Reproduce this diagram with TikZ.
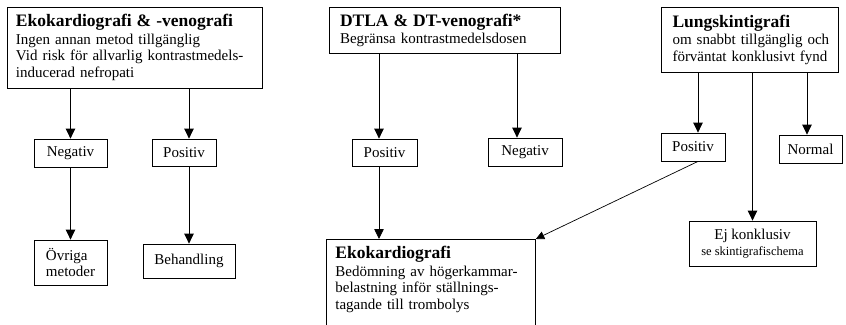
\documentclass[tikz,border=0pt]{standalone}
\usepackage{fontspec}
\setmainfont{Liberation Serif}
\usetikzlibrary{arrows.meta}

\newcommand\boxtitle[1]{{\fontsize{17.5}{19}\selectfont\bfseries #1}}
\newcommand\smallnote[1]{{\fontsize{12.5}{14}\selectfont #1}}

\begin{document}
\begin{tikzpicture}[x=1pt,y=-1pt,
  every node/.style={font=\fontsize{15}{16.5}\selectfont},
  box/.style={draw=black, line width=0.8pt, fill=white, inner sep=0pt},
  bigbox/.style={box, align=left},
  smallbox/.style={box, align=center},
  arr/.style={draw=black, line width=0.8pt, -{Triangle[length=10pt,width=9.5pt]}},
  arrthin/.style={draw=black, line width=0.7pt, -{Triangle[length=8.5pt,width=8pt]}}
]
\useasboundingbox (0,0) rectangle (846,324);
\clip (0,0) rectangle (846,324);

% --- top row: the three examinations ---
\node[bigbox, minimum width=255pt, minimum height=81pt, inner xsep=9pt, text width=237pt] (eko) at (134.5,47.5)
  {\boxtitle{Ekokardiografi \& -venografi}\\[1pt]
   \mbox{Ingen annan metod tillgänglig}\\
   \mbox{Vid risk för allvarlig kontrastmedels-}\\
   \mbox{inducerad nefropati}};

\node[bigbox, minimum width=231pt, minimum height=46pt, inner xsep=11pt, text width=209pt] (dtla) at (444.5,30)
  {\boxtitle{DTLA \& DT-venografi*}\\[0.5pt]
   \mbox{Begränsa kontrastmedelsdosen}};

\node[bigbox, minimum width=177pt, minimum height=65pt, inner xsep=11.5pt, text width=154pt] (lung) at (749.5,39.5)
  {\boxtitle{Lungskintigrafi}\\[1pt]
   \mbox{om snabbt tillgänglig och}\\
   \mbox{förväntat konklusivt fynd}};

% --- results ---
\node[smallbox, minimum width=73pt, minimum height=28pt] (negA) at (70.5,153) {Negativ};
\node[smallbox, minimum width=64pt, minimum height=27pt] (posA) at (184,152.5) {Positiv};
\node[box, align=left, minimum width=73pt, minimum height=45pt] (ovr) at (70.5,262.5) {Övriga\\metoder};
\node[smallbox, minimum width=92pt, minimum height=34pt] (beh) at (189,261) {Behandling};

\node[smallbox, minimum width=65pt, minimum height=27pt] (posB) at (384.5,152.5) {Positiv};
\node[smallbox, minimum width=74pt, minimum height=28pt] (negB) at (525,152) {Negativ};

\node[smallbox, minimum width=64pt, minimum height=28pt] (posC) at (693,147) {Positiv};
\node[smallbox, minimum width=63pt, minimum height=28pt] (norm) at (810.5,149) {Normal};
\node[smallbox, minimum width=127pt, minimum height=45pt] (ejk) at (752.5,243.5)
  {Ej konklusiv\\[-1pt]\smallnote{se skintigrafischema}};

% --- follow-up echocardiography (continues below the page) ---
\node[bigbox, anchor=north west, inner xsep=9pt, inner ysep=7pt, text width=191pt] (ekoB) at (326,239)
  {\boxtitle{Ekokardiografi}\\[1pt]
   \mbox{Bedömning av högerkammar-}\\
   \mbox{belastning inför ställnings-}\\
   \mbox{tagande till trombolys}\rule[-20pt]{0pt}{20pt}};

% --- connectors ---
\draw[arr] (eko.south -| negA.north) -- (negA.north);
\draw[arr] ([xshift=5pt]posA.north |- eko.south) -- ([xshift=5pt]posA.north);
\draw[arr] (negA.south) -- (ovr.north);
\draw[arr] (beh.north |- posA.south) -- (beh.north);

\draw[arr] ([xshift=-5.5pt]posB.north |- dtla.south) -- ([xshift=-5.5pt]posB.north);
\draw[arr] ([xshift=-8pt]negB.north |- dtla.south) -- ([xshift=-8pt]negB.north);
\draw[arr] ([xshift=-5.5pt]posB.south) -- ([xshift=-5.5pt]posB.south |- ekoB.north);

\draw[arr] ([xshift=5pt]posC.north |- lung.south) -- ([xshift=5pt]posC.north);
\draw[arr] (ejk.north |- lung.south) -- (ejk.north);
\draw[arr] ([xshift=-3.5pt]norm.north |- lung.south) -- ([xshift=-3.5pt]norm.north);
\draw[arrthin] ([xshift=5pt]posC.south) -- (ekoB.north east);
\end{tikzpicture}
\end{document}
